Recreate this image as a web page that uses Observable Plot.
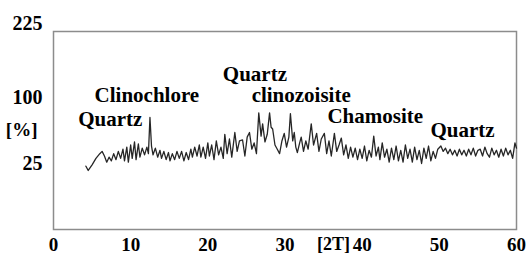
<!DOCTYPE html>
<html><head><meta charset="utf-8">
<script src="https://cdn.jsdelivr.net/npm/d3@7"></script>
<script src="https://cdn.jsdelivr.net/npm/@observablehq/plot@0.6"></script>
<style>
html,body{margin:0;padding:0;background:#fff;}
</style></head><body><div id="chart"></div>
<script>
const twoTheta = [4.2,4.5,5.0,5.5,6.0,6.3,6.6,6.9,7.2,7.5,7.8,8.1,8.4,8.7,9.0,9.2,9.5,9.7,10.0,10.2,10.5,10.7,11.0,11.2,11.5,11.8,12.1,12.3,12.5,12.7,12.9,13.2,13.5,13.8,14.0,14.3,14.6,14.9,15.1,15.4,15.7,16.0,16.3,16.6,16.9,17.2,17.5,17.8,18.0,18.3,18.6,18.9,19.1,19.4,19.7,20.0,20.2,20.5,20.8,21.1,21.4,21.7,22.0,22.2,22.5,22.8,23.1,23.5,23.8,24.1,24.5,24.8,25.1,25.4,25.7,26.0,26.3,26.6,26.9,27.1,27.4,27.7,28.0,28.2,28.4,28.7,29.0,29.3,29.6,29.9,30.2,30.5,30.7,31.0,31.2,31.4,31.6,31.9,32.1,32.4,32.7,33.0,33.4,33.7,34.1,34.4,34.7,35.1,35.4,35.7,36.0,36.4,36.7,37.0,37.3,37.6,37.9,38.2,38.5,38.8,39.1,39.4,39.7,40.0,40.3,40.6,40.9,41.2,41.5,41.8,42.1,42.3,42.6,42.9,43.2,43.5,43.8,44.1,44.4,44.7,45.0,45.3,45.6,45.9,46.2,46.5,46.8,47.1,47.4,47.7,48.0,48.3,48.6,48.9,49.2,49.5,49.8,50.2,50.5,50.8,51.1,51.4,51.7,52.0,52.3,52.6,52.9,53.2,53.5,53.8,54.1,54.4,54.7,55.0,55.3,55.6,55.9,56.2,56.5,56.8,57.1,57.4,57.7,58.0,58.3,58.6,58.9,59.2,59.5,59.8,60.0];
const intensity = [23,20,24,29,33,35,31,26,30,27,33,28,35,29,37,27,39,26,41,29,44,28,42,30,38,32,39,33,72,40,32,38,30,36,29,35,28,34,27,33,28,35,29,35,27,34,28,37,30,39,31,41,30,39,29,43,31,41,28,45,32,39,29,52,33,47,30,54,35,45,46,31,49,54,37,43,33,78,50,64,44,52,78,60,58,41,37,33,45,53,39,49,77,45,54,39,34,43,49,35,45,37,64,41,53,35,47,53,33,45,31,53,35,41,48,32,41,29,39,30,38,28,37,29,40,27,36,30,50,31,39,28,43,30,37,26,38,28,40,27,36,26,41,29,37,26,39,28,36,25,38,29,40,27,35,29,37,40,35,38,33,37,32,36,31,37,32,36,31,37,32,38,31,36,37,31,39,33,30,38,32,36,30,37,31,38,32,36,29,43,38];
const xTicks = [0,10,20,30,40,50,60];
const yTicks = [25,100];
const yTopTick = [225];
const yUnitLabel = "[%]";
const yUnitAt = [57];
const xUnitLabel = "[2T]";
const xUnitAt = [36.3];
const phaseNames = ["Quartz","Clinochlore","Quartz","clinozoisite","Chamosite","Quartz"];
const phaseX = [7.35, 12.1, 26.1, 32.1, 41.7, 53.0];
const phaseY = [70, 104, 139, 104, 74, 57];

const pattern = twoTheta.map((t, i) => ({t, v: intensity[i]}));
const font = "'Liberation Serif', 'Times New Roman', serif";
const chart = Plot.plot({
  width: 526, height: 257,
  marginLeft: 53, marginRight: 10, marginTop: 31, marginBottom: 28,
  style: {fontFamily: font, background: "#fff", color: "#000"},
  x: {domain: [0, 60]},
  y: {type: "sqrt", domain: [0, 225]},
  marks: [
    Plot.frame({stroke: "#8c8c8c", strokeWidth: 1.5}),
    Plot.line(pattern, {x: "t", y: "v", stroke: "#262626", strokeWidth: 1.3}),
    Plot.text(phaseNames, {x: phaseX, y: phaseY, text: phaseNames, fontSize: 21, fontWeight: "bold", fill: "#000", lineAnchor: "middle"}),
    Plot.axisX(xTicks, {tickSize: 0, tickPadding: 8, fontSize: 19, fontWeight: "bold", label: null}),
    Plot.axisX(xUnitAt, {tickSize: 0, tickPadding: 8, fontSize: 18, fontWeight: "bold", tickFormat: () => xUnitLabel, label: null}),
    Plot.axisY(yTicks, {tickSize: 0, tickPadding: 11, fontSize: 20, fontWeight: "bold", label: null}),
    Plot.axisY(yTopTick, {tickSize: 0, tickPadding: 11, fontSize: 20, fontWeight: "bold", dy: -8, label: null}),
    Plot.axisY(yUnitAt, {tickSize: 0, tickPadding: 16, fontSize: 19, fontWeight: "bold", tickFormat: () => yUnitLabel, label: null})
  ]
});
document.getElementById("chart").appendChild(chart);
</script>
</body></html>
